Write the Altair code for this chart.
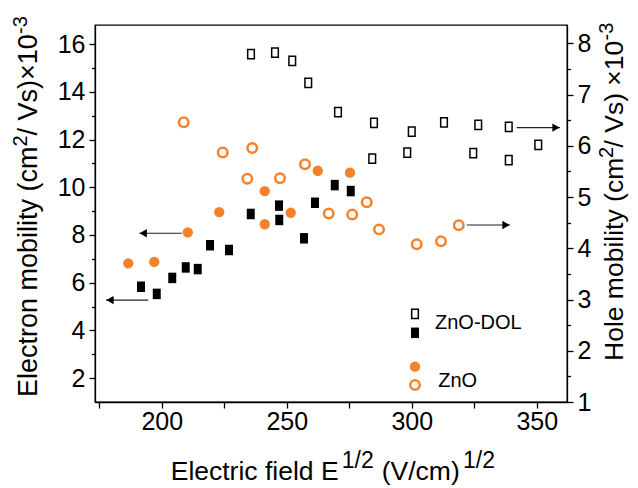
import altair as alt
import pandas as pd

# ---------------- data ----------------
# ZnO-DOL electron mobility (filled squares, left axis)
dol_e_x = [191.7, 198.0, 204.2, 209.6, 214.4, 219.3, 226.9, 235.6, 246.9, 247.0, 256.9, 261.3, 269.2, 275.6]
dol_e_y = [5.83, 5.53, 6.20, 6.64, 6.57, 7.57, 7.37, 8.88, 9.23, 8.63, 7.86, 9.35, 10.09, 9.84]

# ZnO electron mobility (filled circles, left axis)
zno_e_x = [186.6, 197.0, 210.4, 223.0, 241.2, 241.2, 251.6, 262.4, 275.3]
zno_e_y = [6.81, 6.87, 8.11, 8.96, 9.84, 8.45, 8.93, 10.69, 10.61]

# ZnO-DOL hole mobility (open squares, right axis)
dol_h_x = [235.7, 245.3, 252.2, 258.6, 270.5, 284.9, 300.0, 312.9, 326.6, 338.8, 350.6, 284.2, 298.2, 324.6, 338.8]
dol_h_y = [7.79, 7.82, 7.66, 7.23, 6.66, 6.45, 6.28, 6.46, 6.41, 6.37, 6.02, 5.75, 5.87, 5.86, 5.72]

# ZnO hole mobility (open circles, right axis)
zno_h_x = [208.8, 224.4, 236.2, 234.2, 247.3, 257.3, 266.8, 276.2, 282.0, 286.9, 302.0, 311.7, 318.8]
zno_h_y = [6.46, 5.87, 5.96, 5.36, 5.37, 5.64, 4.68, 4.66, 4.90, 4.37, 4.08, 4.14, 4.45]

# axis-pointer arrows (in left-axis units)
arrow_x_start = [208.0, 194.6, 342.0, 322.0]
arrow_x_end = [191.0, 177.7, 359.3, 339.3]
arrow_y = [8.07, 5.27, 12.50, 8.42]
arrow_dir = ["left", "left", "right", "right"]

# in-plot legend (left-axis units)
legend_kind = ["open_sq", "filled_sq", "filled_circle", "open_circle"]
legend_x = [301.3, 301.3, 301.3, 301.3]
legend_y = [4.69, 3.90, 2.48, 1.71]
legend_text = ["ZnO-DOL", "ZnO"]
legend_text_x = [309.3, 310.6]
legend_text_y = [4.30, 1.89]

x_ticks = [175, 200, 225, 250, 275, 300, 325, 350]
yl_major = [2, 4, 6, 8, 10, 12, 14, 16]
yl_minor = [3, 5, 7, 9, 11, 13, 15]
yr_major = [1, 2, 3, 4, 5, 6, 7, 8]
yr_minor = [1.5, 2.5, 3.5, 4.5, 5.5, 6.5, 7.5]

# ---------------- styling ----------------
FONT = "Liberation Sans"
ORANGE = "#F5822A"
TICK_FS = 25

df_dol_e = pd.DataFrame({"x": dol_e_x, "y": dol_e_y})
df_zno_e = pd.DataFrame({"x": zno_e_x, "y": zno_e_y})
df_dol_h = pd.DataFrame({"x": dol_h_x, "y": dol_h_y})
df_zno_h = pd.DataFrame({"x": zno_h_x, "y": zno_h_y})
df_arrow = pd.DataFrame({"x": arrow_x_start, "x2": arrow_x_end, "y": arrow_y, "dir": arrow_dir})
df_leg = pd.DataFrame({"x": legend_x, "y": legend_y, "kind": legend_kind})
df_legt = pd.DataFrame({"x": legend_text_x, "y": legend_text_y, "t": legend_text})
one = pd.DataFrame({"k": [0]})

xscale = alt.Scale(domain=[173.3, 362.1], nice=False, zero=False)
yl_scale = alt.Scale(domain=[1.0, 16.8], nice=False, zero=False)
yr_scale = alt.Scale(domain=[1.0, 8.36], nice=False, zero=False)

axis_common = dict(
    grid=False, title=None, domainColor="black", domainWidth=1.3,
    tickColor="black", tickWidth=1.3, labelColor="black",
    labelFont=FONT, labelFontSize=TICK_FS,
)

x_axis = alt.Axis(
    values=x_ticks, orient="bottom", tickSize=6, labelPadding=13, labelBaseline="middle",
    labelExpr="datum.value % 50 == 0 ? datum.label : ''", **axis_common,
)
X = alt.X("x:Q", scale=xscale, axis=x_axis)
X2 = alt.X2("x2")

yl_axis = alt.Axis(values=yl_major, orient="left", tickSize=6, labelPadding=4, **axis_common)
yl_minor_axis = alt.Axis(values=yl_minor, orient="left", tickSize=3.5, labels=False,
                         domain=False, grid=False, title=None, tickColor="black", tickWidth=1.3)
yr_axis = alt.Axis(values=yr_major, orient="right", tickSize=6, labelPadding=4, **axis_common)
yr_minor_axis = alt.Axis(values=yr_minor, orient="right", tickSize=3.5, labels=False,
                         domain=False, grid=False, title=None, tickColor="black", tickWidth=1.3)

sq_fill_path = "M-0.76,-1L0.76,-1L0.76,1L-0.76,1Z"
sq_open_path = "M-0.72,-1L0.72,-1L0.72,1L-0.72,1Z"

# ---------------- left-axis layers ----------------
fsq = alt.Chart(df_dol_e).mark_point(shape=sq_fill_path, filled=True, size=110, color="black", opacity=1).encode(
    x=X, y=alt.Y("y:Q", scale=yl_scale, axis=yl_axis))
minor_l = alt.Chart(df_dol_e).mark_point(opacity=0).encode(
    x=X, y=alt.Y("y:Q", scale=yl_scale, axis=yl_minor_axis))
fcirc = alt.Chart(df_zno_e).mark_circle(size=107, color=ORANGE, opacity=1).encode(
    x=X, y=alt.Y("y:Q", scale=yl_scale, axis=None))

arrow_lines = alt.Chart(df_arrow).mark_rule(color="#222222", strokeWidth=1.1).encode(
    x=X, x2=X2, y=alt.Y("y:Q", scale=yl_scale, axis=None))
arrow_heads_l = alt.Chart(df_arrow).transform_filter("datum.dir == 'left'").mark_point(
    shape="triangle-left", filled=True, size=70, color="black", opacity=1, xOffset=4).encode(
    x=alt.X("x2:Q", scale=xscale, axis=x_axis), y=alt.Y("y:Q", scale=yl_scale, axis=None))
arrow_heads_r = alt.Chart(df_arrow).transform_filter("datum.dir == 'right'").mark_point(
    shape="triangle-right", filled=True, size=70, color="black", opacity=1, xOffset=-4).encode(
    x=alt.X("x2:Q", scale=xscale, axis=x_axis), y=alt.Y("y:Q", scale=yl_scale, axis=None))

leg_open_sq = alt.Chart(df_leg).transform_filter("datum.kind == 'open_sq'").mark_point(
    shape=sq_open_path, filled=False, size=85, color="black", strokeWidth=1.5, opacity=1).encode(
    x=X, y=alt.Y("y:Q", scale=yl_scale, axis=None))
leg_fill_sq = alt.Chart(df_leg).transform_filter("datum.kind == 'filled_sq'").mark_point(
    shape=sq_fill_path, filled=True, size=110, color="black", opacity=1).encode(
    x=X, y=alt.Y("y:Q", scale=yl_scale, axis=None))
leg_fill_c = alt.Chart(df_leg).transform_filter("datum.kind == 'filled_circle'").mark_circle(
    size=107, color=ORANGE, opacity=1).encode(
    x=X, y=alt.Y("y:Q", scale=yl_scale, axis=None))
leg_open_c = alt.Chart(df_leg).transform_filter("datum.kind == 'open_circle'").mark_point(
    shape="circle", filled=False, size=90, strokeWidth=2.5, color=ORANGE, opacity=1).encode(
    x=X, y=alt.Y("y:Q", scale=yl_scale, axis=None))
leg_text = alt.Chart(df_legt).mark_text(align="left", baseline="middle", font=FONT, fontSize=20, color="black").encode(
    x=X, y=alt.Y("y:Q", scale=yl_scale, axis=None), text="t:N")


def piece(text, x, y, size, angle=0):
    kw = dict(text=text, font=FONT, fontSize=size, color="black", align="left", baseline="alphabetic")
    if angle:
        kw["angle"] = angle
    return alt.Chart(one).mark_text(**kw).encode(x=alt.value(x), y=alt.value(y))


titles = [
    # x-axis title
    piece("Electric field E", 75.7, 455, 26.5),
    piece("1/2", 246.7, 443, 23),
    piece("(V/cm)", 286.7, 455, 26.5),
    piece("1/2", 368, 443, 23),
    # left axis title (rotated)
    piece("Electron mobility (cm", -58, 372, 27, 270),
    piece("2", -68, 121.5, 20, 270),
    piece("/ Vs)\u00d710", -58, 110.5, 27, 270),
    piece("-3", -68, 9, 20, 270),
    # right axis title (rotated)
    piece("Hole mobility (cm", 528, 336, 26.5, 270),
    piece("2", 518, 133, 20, 270),
    piece("/ Vs) \u00d710", 528, 122.5, 26.5, 270),
    piece("-3", 518, 15.5, 20, 270),
]

left = alt.layer(
    fsq, minor_l, fcirc, arrow_lines, arrow_heads_l, arrow_heads_r,
    leg_open_sq, leg_fill_sq, leg_fill_c, leg_open_c, leg_text, *titles,
).resolve_axis(y="independent")

# ---------------- right-axis layers ----------------
osq = alt.Chart(df_dol_h).mark_point(shape=sq_open_path, filled=False, size=85, color="black",
                                     strokeWidth=1.5, opacity=1).encode(
    x=X, y=alt.Y("y:Q", scale=yr_scale, axis=yr_axis))
minor_r = alt.Chart(df_dol_h).mark_point(opacity=0).encode(
    x=X, y=alt.Y("y:Q", scale=yr_scale, axis=yr_minor_axis))
ocirc = alt.Chart(df_zno_h).mark_point(shape="circle", filled=False, size=90, strokeWidth=2.5,
                                       color=ORANGE, opacity=1).encode(
    x=X, y=alt.Y("y:Q", scale=yr_scale, axis=None))

right = alt.layer(osq, minor_r, ocirc).resolve_axis(y="independent")

chart = alt.layer(left, right).resolve_scale(y="independent").properties(
    width=472, height=377,
    autosize=alt.AutoSizeParams(type="none"),
    padding={"left": 87, "top": 17, "right": 63, "bottom": 86},
    background="white",
).configure_view(stroke="black", strokeWidth=1.3)

chart.save("out.html", embed_options={"renderer": "svg", "actions": False})
